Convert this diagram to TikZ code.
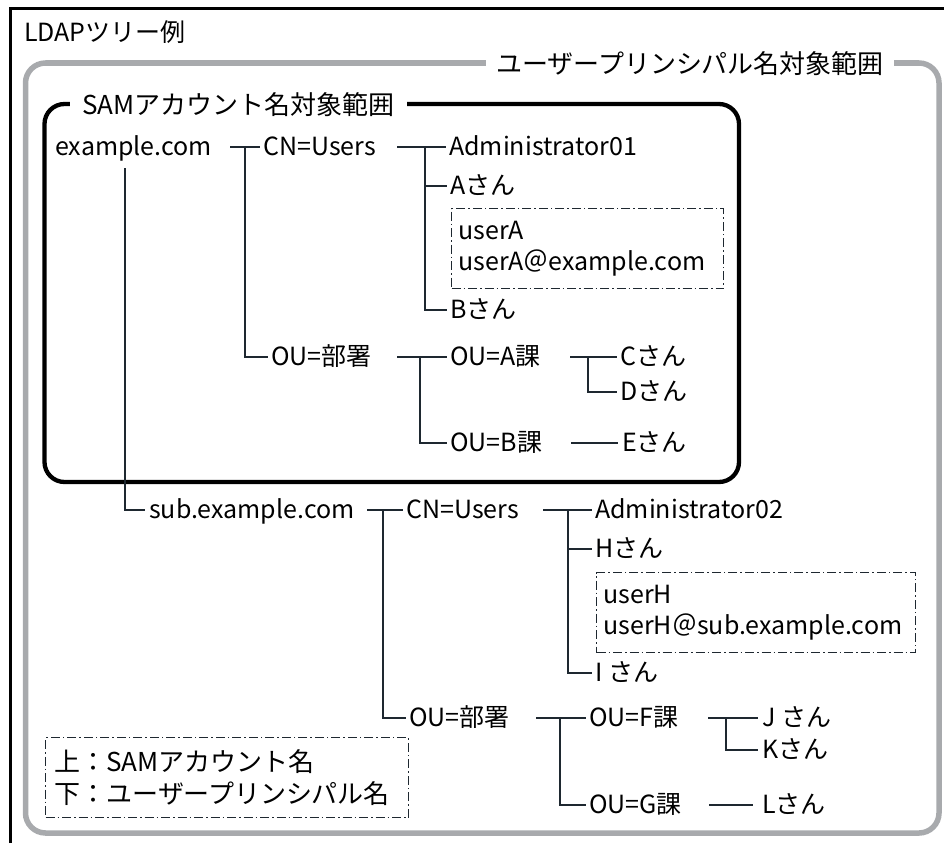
\documentclass[tikz,border=0pt]{standalone}
\usepackage{fontspec}
\setmainfont{Noto Sans CJK JP}
\usepackage{xcolor}
\usepackage{tikz}
\definecolor{upngray}{RGB}{168,170,173}
\definecolor{linkgray}{RGB}{30,40,48}

\begin{document}
\begin{tikzpicture}[
		x=1pt, y=-1pt,
		entry/.style={
			anchor=west,
			inner sep=0pt,
			text height=17.5pt,
			text depth=0pt,
			font=\fontsize{25}{30}\selectfont
		},
		idbox/.style={
			draw=linkgray,
			line width=1pt,
			dash pattern=on 9pt off 3pt on 1.5pt off 3pt,
			anchor=north west,
			align=left,
			inner xsep=7pt,
			inner ysep=0pt,
			minimum height=80pt,
			font=\fontsize{25}{31}\selectfont
		},
		tag/.style={
			fill=white,
			inner xsep=10pt,
			inner ysep=2pt,
			text height=18pt,
			text depth=0pt,
			font=\fontsize{26}{30}\selectfont
		},
		link/.style={
			draw=linkgray,
			line width=1.2pt
		}
		]
		\useasboundingbox (0,0) rectangle (944,843);
		
		% frames
		\draw[black, line width=3pt] (10.5,843) -- (10.5,8.5) -- (944,8.5);
		\draw[upngray, line width=5.5pt, rounded corners=20pt] (25.5,63) rectangle (939,833);
		\draw[black, line width=4.3pt, rounded corners=20pt] (44.5,104) rectangle (739,482);
		
		\node[entry] (title) at (24,33) {LDAPツリー例};
		\node[tag] (upntag) at (690,65) {ユーザープリンシパル名対象範囲};
		\node[tag, anchor=west, inner xsep=12pt] (samtag) at (70,105) {SAMアカウント名対象範囲};
		
		% example.com
		\node[entry] (dom1) at (55,147) {example.com};
		\node[entry] (cn1) at (263,147) {CN=Users};
		\node[entry] (adm1) at (449,147) {Administrator01};
		\node[entry] (usrA) at (450,186) {Aさん};
		\node[idbox, text width=258pt] (idA) at (451,208) {userA\\userA＠example.com};
		\node[entry] (usrB) at (450,310) {Bさん};
		\node[entry] (ou1) at (271,357) {OU=部署};
		\node[entry] (ouA) at (450,357) {OU=A課};
		\node[entry] (usrC) at (620,357) {Cさん};
		\node[entry] (usrD) at (620,392) {Dさん};
		\node[entry] (ouB) at (450,443) {OU=B課};
		\node[entry] (usrE) at (622,443) {Eさん};
		
		% sub.example.com
		\node[entry] (dom2) at (149,510) {sub.example.com};
		\node[entry] (cn2) at (406,510) {CN=Users};
		\node[entry] (adm2) at (595,510) {Administrator02};
		\node[entry] (usrH) at (595,549) {Hさん};
		\node[idbox, text width=305pt] (idH) at (596,572) {userH\\userH＠sub.example.com};
		\node[entry] (usrI) at (595,673) {I さん};
		\node[entry] (ou2) at (409,718) {OU=部署};
		\node[entry] (ouF) at (589,718) {OU=F課};
		\node[entry] (usrJ) at (762,718) {J さん};
		\node[entry] (usrK) at (762,750) {Kさん};
		\node[entry] (ouG) at (589,805) {OU=G課};
		\node[entry] (usrL) at (762,805) {Lさん};
		
		\node[idbox, inner xsep=9pt, text width=345pt, font=\fontsize{26}{32}\selectfont] (legend) at (45,737) {上：SAMアカウント名\\下：ユーザープリンシパル名};
		
		% bus lines
		\coordinate (bus1) at ([xshift=-18pt]cn1.west);
		\coordinate (bus2) at ([xshift=-24pt]adm1.west);
		\coordinate (bus3) at ([xshift=-30pt]ouA.west);
		\coordinate (bus4) at ([xshift=-32pt]usrC.west);
		\coordinate (bus5) at ([xshift=-23pt]cn2.west);
		\coordinate (bus6) at ([xshift=-27pt]adm2.west);
		\coordinate (bus7) at ([xshift=-29pt]ouF.west);
		\coordinate (bus8) at ([xshift=-36pt]usrJ.west);
		
		\draw[link] ([xshift=-33pt]cn1.west) -- ([xshift=-3pt]cn1.west);
		\draw[link] (bus1) |- ([xshift=-3pt]ou1.west);
		\draw[link] ([xshift=70pt,yshift=-21pt]dom1.west) |- ([xshift=-4pt]dom2.west);
		
		\draw[link] ([xshift=-52pt]adm1.west) -- ([xshift=-3pt]adm1.west);
		\draw[link] (bus2) |- ([xshift=-3pt]usrB.west);
		\draw[link] (bus2 |- usrA.west) -- ([xshift=-3pt]usrA.west);
		
		\draw[link] ([xshift=-53pt]ouA.west) -- ([xshift=-3pt]ouA.west);
		\draw[link] (bus3) |- ([xshift=-3pt]ouB.west);
		\draw[link] ([xshift=-50pt]usrC.west) -- ([xshift=-3pt]usrC.west);
		\draw[link] (bus4) |- ([xshift=-3pt]usrD.west);
		\draw[link] ([xshift=-51pt]usrE.west) -- ([xshift=-4pt]usrE.west);
		
		\draw[link] ([xshift=-39pt]cn2.west) -- ([xshift=-3pt]cn2.west);
		\draw[link] (bus5) |- ([xshift=-3pt]ou2.west);
		\draw[link] ([xshift=-52pt]adm2.west) -- ([xshift=-3pt]adm2.west);
		\draw[link] (bus6) |- ([xshift=-3pt]usrI.west);
		\draw[link] (bus6 |- usrH.west) -- ([xshift=-3pt]usrH.west);
		
		\draw[link] ([xshift=-53pt]ouF.west) -- ([xshift=-3pt]ouF.west);
		\draw[link] (bus7) |- ([xshift=-3pt]ouG.west);
		\draw[link] ([xshift=-54pt]usrJ.west) -- ([xshift=-4pt]usrJ.west);
		\draw[link] (bus8) |- ([xshift=-4pt]usrK.west);
		\draw[link] ([xshift=-53pt]usrL.west) -- ([xshift=-9pt]usrL.west);
		
	\end{tikzpicture}
\end{document}
